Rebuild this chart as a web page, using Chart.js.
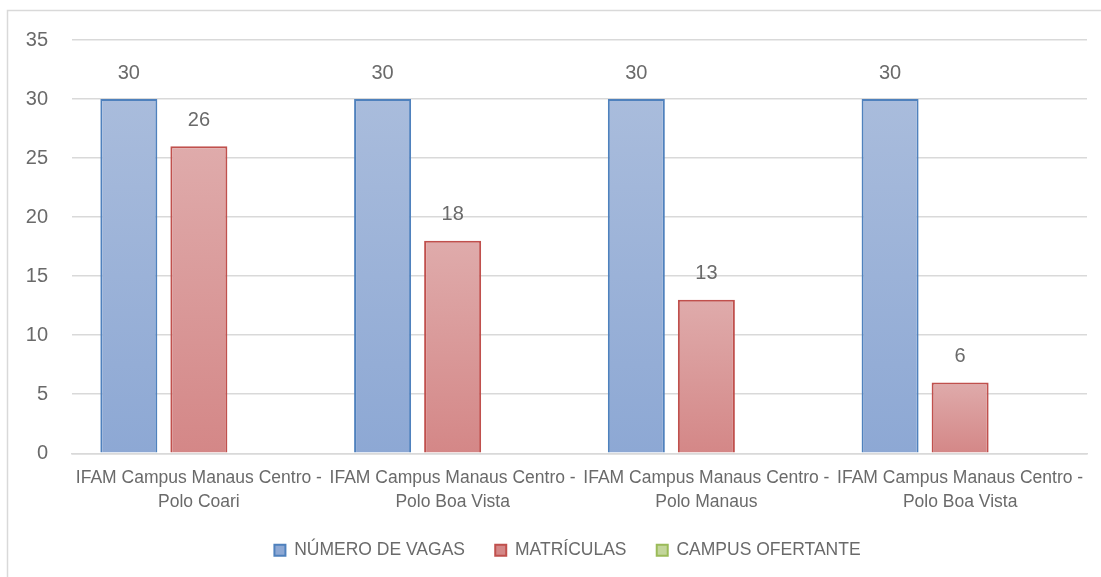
<!DOCTYPE html>
<html>
<head>
<meta charset="utf-8">
<script src="https://cdn.jsdelivr.net/npm/chart.js@4.4.1/dist/chart.umd.min.js"></script>
<style>
  html, body { margin: 0; padding: 0; background: #fff; }
  #wrap { width: 1101px; height: 577px; position: relative; }
</style>
</head>
<body>
<div id="wrap"><canvas id="grafico"></canvas></div>
<script>
// ===== Datos =====
const categorias = [
  ["IFAM Campus Manaus Centro -", "Polo Coari"],
  ["IFAM Campus Manaus Centro -", "Polo Boa Vista"],
  ["IFAM Campus Manaus Centro -", "Polo Manaus"],
  ["IFAM Campus Manaus Centro -", "Polo Boa Vista"],
];
const numeroVagas = [30, 30, 30, 30];
const matriculas = [26, 18, 13, 6];
const campusOfertante = [null, null, null, null];
const nomesSeries = ["NÚMERO DE VAGAS", "MATRÍCULAS", "CAMPUS OFERTANTE"];
const eixoY = { min: 0, max: 35, passo: 5 };

// ===== Estilos =====
const SANS = "'Liberation Sans', Arial, sans-serif";
const TXT = "#6a6a6a";
const GRID = "#d9d9d9";

// gradiente vertical por barra (topo claro -> base mais escura)
function gradiente(topo, base, solido) {
  return function (ctx) {
    if (ctx.type !== "data" || ctx.parsed == null || ctx.parsed.y == null) return solido;
    const ch = ctx.chart;
    const y = ch.scales && ch.scales.y;
    if (!y || !ch.chartArea) return solido;
    const yTop = y.getPixelForValue(ctx.parsed.y);
    const yBot = y.getPixelForValue(0);
    if (!isFinite(yTop) || !isFinite(yBot) || yTop === yBot) return solido;
    const g = ch.ctx.createLinearGradient(0, yTop, 0, yBot);
    g.addColorStop(0, topo);
    g.addColorStop(1, base);
    return g;
  };
}

// moldura cinza do gráfico
const moldura = {
  id: "moldura",
  beforeDraw(chart) {
    const c = chart.ctx;
    c.save();
    c.strokeStyle = GRID;
    c.lineWidth = 1.5;
    c.strokeRect(7.5, 10.5, chart.width + 50, chart.height + 50);
    c.restore();
  },
  // a legenda do original fica um pouco à esquerda do centro da área
  afterLayout(chart) {
    if (!chart.legend) return;
    chart.legend.left -= 12;
    chart.legend.right -= 12;
  },
};

// rótulos de valor acima das barras
const rotulos = {
  id: "rotulos",
  afterDatasetsDraw(chart) {
    const c = chart.ctx;
    c.save();
    c.font = "20px " + SANS;
    c.fillStyle = TXT;
    c.textAlign = "center";
    c.textBaseline = "middle";
    chart.data.datasets.forEach((ds, i) => {
      const meta = chart.getDatasetMeta(i);
      meta.data.forEach((bar, j) => {
        const v = ds.data[j];
        if (v == null) return;
        c.fillText(String(v), bar.x, bar.y - 26);
      });
    });
    c.restore();
  },
};

const ctx = document.getElementById("grafico").getContext("2d");
new Chart(ctx, {
  type: "bar",
  data: {
    labels: categorias,
    datasets: [
      {
        label: nomesSeries[0],
        data: numeroVagas,
        backgroundColor: gradiente("#a9bcdc", "#8da8d4", "#9bb2d8"),
        borderColor: "#4f81bd",
        borderWidth: 2,
      },
      {
        label: nomesSeries[1],
        data: matriculas,
        backgroundColor: gradiente("#dfabab", "#d48787", "#d99a9a"),
        borderColor: "#c0504d",
        borderWidth: 2,
      },
      {
        label: nomesSeries[2],
        data: campusOfertante,
        backgroundColor: "#c3d69b",
        borderColor: "#9bbb59",
        borderWidth: 2,
      },
    ],
  },
  options: {
    responsive: true,
    maintainAspectRatio: false,
    animation: false,
    categoryPercentage: 0.828,
    barPercentage: 0.814,
    layout: { padding: { top: 40, right: 14, bottom: 8, left: 0 } },
    scales: {
      x: {
        grid: { display: false, drawTicks: false },
        border: { display: true, color: GRID, width: 1.5 },
        ticks: {
          color: TXT,
          padding: 13,
          maxRotation: 0,
          autoSkip: false,
          font: { family: SANS, size: 17.5, lineHeight: 1.371 },
        },
        afterFit: (s) => { s.height = 58; },
      },
      y: {
        min: eixoY.min,
        max: eixoY.max,
        ticks: {
          stepSize: eixoY.passo,
          color: TXT,
          padding: 24,
          font: { family: SANS, size: 20 },
        },
        grid: { color: GRID, lineWidth: 1.5, drawTicks: false },
        border: { display: false },
        afterFit: (s) => { s.width = 72; },
      },
    },
    plugins: {
      legend: {
        position: "bottom",
        fullSize: false,
        labels: {
          boxWidth: 11,
          boxHeight: 11,
          padding: 30.25,
          color: TXT,
          font: { family: SANS, size: 17.5 },
        },
      },
      tooltip: { enabled: false },
    },
  },
  plugins: [moldura, rotulos],
});
</script>
</body>
</html>
